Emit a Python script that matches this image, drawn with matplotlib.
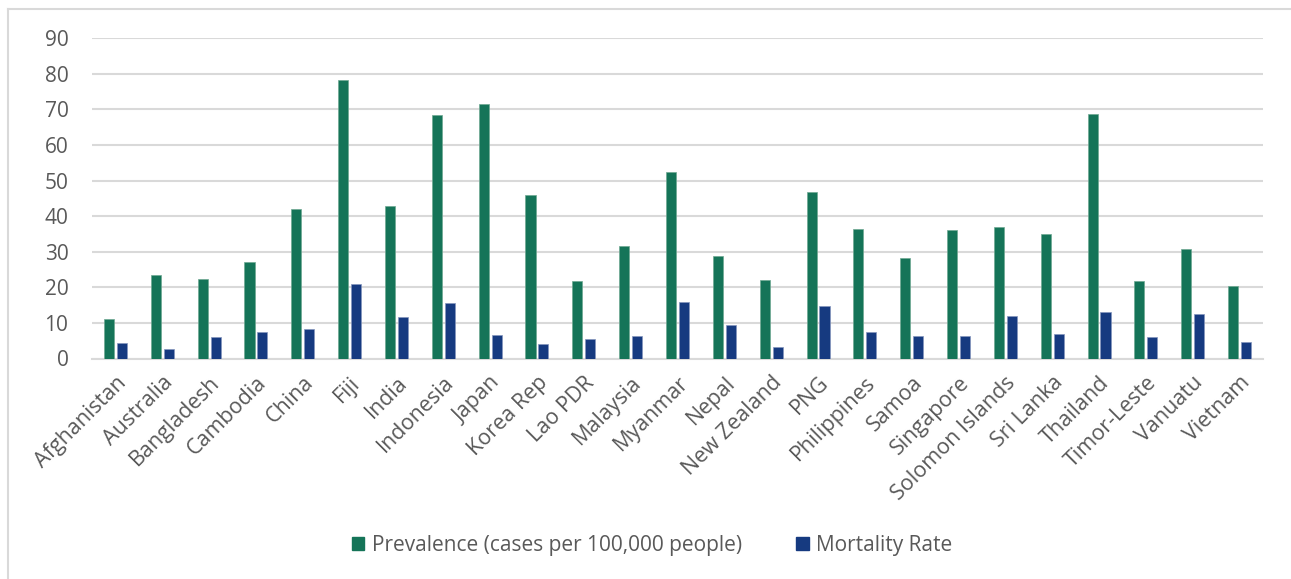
import matplotlib
matplotlib.use("Agg")
import matplotlib.pyplot as plt
import numpy as np
from matplotlib.lines import Line2D

countries = ["Afghanistan", "Australia", "Bangladesh", "Cambodia", "China", "Fiji",
             "India", "Indonesia", "Japan", "Korea Rep", "Lao PDR", "Malaysia",
             "Myanmar", "Nepal", "New Zealand", "PNG", "Philippines", "Samoa",
             "Singapore", "Solomon Islands", "Sri Lanka", "Thailand", "Timor-Leste",
             "Vanuatu", "Vietnam"]
prevalence = [11.0, 23.4, 22.3, 27.1, 42.1, 78.4, 42.8, 68.4, 71.5, 46.0, 21.8, 31.5,
              52.3, 28.8, 22.2, 46.7, 36.4, 28.2, 36.0, 37.0, 35.1, 68.6, 21.9, 30.9, 20.5]
mortality = [4.3, 2.7, 6.0, 7.5, 8.4, 20.9, 11.7, 15.5, 6.5, 4.0, 5.4, 6.3,
             16.0, 9.4, 3.2, 14.8, 7.4, 6.3, 6.2, 11.9, 7.0, 13.1, 6.0, 12.5, 4.6]

green = "#157458"
blue = "#163a80"
text_gray = "#595959"
grid_gray = "#d9d9d9"

plt.rcParams["font.family"] = ["Open Sans", "DejaVu Sans"]

fig = plt.figure(figsize=(12.91, 5.79), dpi=100)
ax = fig.add_axes([92 / 1291, 1 - 358.5 / 579, (1263 - 92) / 1291, (358.5 - 38.3) / 579])

x = np.arange(len(countries))
w = 0.215
ax.bar(x - 0.138, prevalence, width=w, color=green, edgecolor="#6fa892",
       linewidth=0.5, label="Prevalence (cases per 100,000 people)", zorder=3)
ax.bar(x + 0.138, mortality, width=w, color=blue, edgecolor="#8595bd",
       linewidth=0.5, label="Mortality Rate", zorder=3)

ax.set_xlim(-0.5, len(countries) - 0.5)
ax.set_ylim(0, 90)
ax.set_yticks(range(0, 91, 10))
ax.yaxis.grid(True, color=grid_gray, linewidth=1.5, zorder=0)
ax.set_axisbelow(True)
for s in ["top", "right", "left"]:
    ax.spines[s].set_visible(False)
ax.spines["bottom"].set_color(grid_gray)
ax.spines["bottom"].set_linewidth(1.5)
ax.tick_params(axis="both", length=0, colors=text_gray)
ax.tick_params(axis="y", pad=17, labelsize=15)
ax.set_xticks(x)
ax.set_xticklabels(countries, rotation=45, ha="right", rotation_mode="anchor")
ax.tick_params(axis="x", pad=10, labelsize=15.5)

handles = [plt.Rectangle((0, 0), 1, 1, color=green), plt.Rectangle((0, 0), 1, 1, color=blue)]
fig.legend(handles, ["Prevalence (cases per 100,000 people)", "Mortality Rate"],
           loc="center", bbox_to_anchor=(652 / 1291, 1 - 545 / 579), ncol=2,
           frameon=False, fontsize=15, labelcolor=text_gray, handlelength=0.6,
           handleheight=0.6, handletextpad=0.35, columnspacing=2.6)

# chart frame
fig.add_artist(Line2D([7.5 / 1291, 7.5 / 1291], [0, 1 - 9 / 579], color=grid_gray,
                      linewidth=1.5, transform=fig.transFigure))
fig.add_artist(Line2D([7.5 / 1291, 1], [1 - 9 / 579, 1 - 9 / 579], color=grid_gray,
                      linewidth=1.5, transform=fig.transFigure))

fig.savefig("out.png", dpi=100)
